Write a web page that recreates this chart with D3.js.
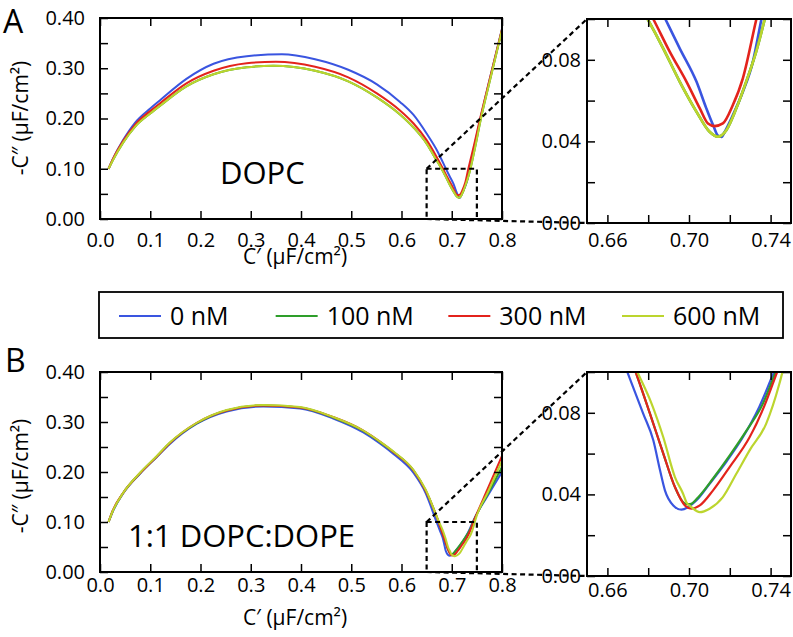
<!DOCTYPE html>
<html><head><meta charset="utf-8">
<script src="https://cdn.jsdelivr.net/npm/d3@7"></script>
<style>
body{margin:0;background:#fff}
svg text{font-family:'Open Sans',sans-serif;fill:#000}
</style>
</head><body>
<svg id="chart" width="793" height="637"></svg>
<script>
// ---------- data ----------
const seriesLabels = ["0 nM", "100 nM", "300 nM", "600 nM"];
const seriesColors = ["#3a55e0", "#2e9e2a", "#e3231c", "#bcd52e"];

const mainXTicks = [0, 0.1, 0.2, 0.3, 0.4, 0.5, 0.6, 0.7, 0.8];
const mainYTicks = [0, 0.1, 0.2, 0.3, 0.4];
const mainYMinor = [0, 0.05, 0.1, 0.15, 0.2, 0.25, 0.3, 0.35, 0.4];
const insetXTicks = [0.66, 0.70, 0.74];
const insetXMinor = [0.66, 0.68, 0.70, 0.72, 0.74];
const insetYTicks = [0, 0.04, 0.08];
const insetYMinor = [0, 0.02, 0.04, 0.06, 0.08, 0.10];

// Panel A: DOPC  [C', -C'']
const dopc0 = [[0.017,0.100],[0.025,0.118],[0.046,0.157],[0.07,0.192],[0.10,0.220],[0.119,0.236],[0.172,0.279],[0.226,0.309],[0.292,0.324],[0.362,0.328],[0.428,0.318],[0.494,0.297],[0.551,0.268],[0.597,0.233],[0.624,0.207],[0.65,0.170],[0.672,0.134],[0.6887,0.0994],[0.6955,0.0855],[0.7037,0.0692],[0.7085,0.0562],[0.7118,0.048],[0.7142,0.0428],[0.7160,0.0422],[0.7175,0.0447],[0.7215,0.0529],[0.7264,0.0643],[0.7313,0.079],[0.7354,0.0994],[0.745,0.145],[0.756,0.195],[0.776,0.280],[0.800,0.378]];
const dopc100 = [[0.017,0.100],[0.025,0.116],[0.046,0.152],[0.07,0.184],[0.10,0.210],[0.119,0.225],[0.172,0.264],[0.226,0.288],[0.292,0.302],[0.345,0.305],[0.428,0.295],[0.494,0.274],[0.551,0.242],[0.597,0.208],[0.624,0.182],[0.65,0.150],[0.666,0.123],[0.68,0.0994],[0.6874,0.0855],[0.6955,0.0692],[0.7037,0.0545],[0.7101,0.0447],[0.7142,0.0423],[0.7183,0.0455],[0.7232,0.0562],[0.728,0.0692],[0.7329,0.0839],[0.737,0.0994],[0.747,0.145],[0.757,0.195],[0.777,0.280],[0.800,0.376]];
const dopc300 = [[0.017,0.100],[0.025,0.118],[0.046,0.155],[0.07,0.188],[0.10,0.215],[0.119,0.230],[0.172,0.270],[0.226,0.295],[0.292,0.310],[0.350,0.313],[0.428,0.303],[0.494,0.282],[0.551,0.250],[0.597,0.216],[0.624,0.190],[0.65,0.157],[0.668,0.127],[0.6828,0.0994],[0.6906,0.0839],[0.6988,0.0692],[0.7053,0.0562],[0.7093,0.0488],[0.7126,0.0475],[0.7166,0.0488],[0.7215,0.0578],[0.7264,0.0709],[0.7329,0.0994],[0.745,0.150],[0.756,0.198],[0.776,0.280],[0.800,0.378]];
const dopc600 = [[0.017,0.100],[0.025,0.116],[0.046,0.152],[0.07,0.184],[0.10,0.210],[0.119,0.225],[0.172,0.264],[0.226,0.288],[0.292,0.302],[0.345,0.305],[0.428,0.295],[0.494,0.274],[0.551,0.242],[0.597,0.208],[0.624,0.182],[0.65,0.150],[0.666,0.123],[0.68,0.0994],[0.6874,0.0855],[0.6955,0.0692],[0.7037,0.0545],[0.7101,0.0447],[0.7142,0.0423],[0.7183,0.0455],[0.7232,0.0562],[0.728,0.0692],[0.7329,0.0839],[0.737,0.0994],[0.747,0.145],[0.757,0.195],[0.777,0.280],[0.800,0.376]];

// Panel B: 1:1 DOPC:DOPE
const mix0 = [[0.017,0.100],[0.025,0.120],[0.046,0.157],[0.08,0.197],[0.113,0.230],[0.139,0.256],[0.192,0.296],[0.252,0.321],[0.325,0.331],[0.398,0.327],[0.464,0.307],[0.524,0.279],[0.557,0.257],[0.584,0.236],[0.624,0.198],[0.648,0.158],[0.6695,0.1007],[0.6776,0.0795],[0.6825,0.0665],[0.6858,0.0518],[0.6882,0.042],[0.6923,0.0346],[0.6963,0.0325],[0.6996,0.0338],[0.7037,0.0371],[0.7101,0.0452],[0.7183,0.0560],[0.7264,0.0680],[0.7345,0.0830],[0.742,0.1007],[0.770,0.150],[0.800,0.200]];
const mix100 = [[0.017,0.100],[0.025,0.121],[0.046,0.158],[0.08,0.198],[0.113,0.231],[0.139,0.258],[0.192,0.297],[0.252,0.323],[0.325,0.333],[0.398,0.329],[0.464,0.309],[0.524,0.282],[0.557,0.260],[0.584,0.240],[0.624,0.203],[0.648,0.163],[0.6736,0.1007],[0.6809,0.0795],[0.6874,0.060],[0.6931,0.0436],[0.698,0.0355],[0.7004,0.0352],[0.7053,0.0395],[0.7118,0.0478],[0.7199,0.0590],[0.7280,0.0710],[0.7360,0.0840],[0.7428,0.1007],[0.771,0.155],[0.800,0.210]];
const mix300 = [[0.017,0.100],[0.025,0.122],[0.046,0.158],[0.08,0.198],[0.113,0.231],[0.139,0.258],[0.192,0.298],[0.252,0.323],[0.325,0.333],[0.398,0.329],[0.464,0.310],[0.524,0.283],[0.557,0.261],[0.584,0.240],[0.624,0.203],[0.648,0.163],[0.6736,0.1007],[0.6809,0.0795],[0.6874,0.060],[0.6931,0.0436],[0.698,0.0346],[0.7012,0.033],[0.7053,0.0346],[0.7118,0.042],[0.7199,0.0534],[0.7297,0.0680],[0.7370,0.0835],[0.7435,0.1007],[0.771,0.165],[0.800,0.232]];
const mix600 = [[0.017,0.100],[0.025,0.121],[0.046,0.158],[0.08,0.199],[0.113,0.232],[0.139,0.259],[0.192,0.298],[0.252,0.324],[0.325,0.334],[0.398,0.330],[0.464,0.310],[0.524,0.283],[0.557,0.261],[0.584,0.241],[0.624,0.204],[0.648,0.165],[0.6744,0.1007],[0.6817,0.0844],[0.6874,0.068],[0.6931,0.0485],[0.6971,0.0403],[0.6987,0.0362],[0.7012,0.0338],[0.7053,0.0313],[0.7101,0.033],[0.7166,0.0387],[0.7232,0.0501],[0.7297,0.0616],[0.7378,0.0746],[0.7443,0.0942],[0.746,0.1007],[0.772,0.160],[0.800,0.222]];

const panelLetters = ["A", "B"];
const panelNames = ["DOPC", "1:1 DOPC:DOPE"];
const panelSeries = [[dopc0, dopc100, dopc300, dopc600], [mix0, mix100, mix300, mix600]];

// ---------- layout ----------
const svg = d3.select("#chart");
const layouts = [
  {main:{l:100,r:502,t:18,b:219}, inset:{l:587,r:791,t:19,b:223}, xPad:14, ixPad:10, letter:[3,33], name:[220,184], ylab:[28,118], xlab:[295,264]},
  {main:{l:100,r:502,t:372,b:572}, inset:{l:587,r:791,t:372,b:576}, xPad:6, ixPad:7, letter:[5,372], name:[128,547], ylab:[28,476], xlab:[295,625]}
];

function frame(g, box) {
  g.append("rect").attr("x", box.l).attr("y", box.t)
    .attr("width", box.r - box.l).attr("height", box.b - box.t)
    .attr("fill", "none").attr("stroke", "#000").attr("stroke-width", 2);
}
function styleAxis(sel) {
  sel.select(".domain").remove();
  sel.selectAll(".tick line").attr("stroke", "#000").attr("stroke-width", 1.5);
  sel.selectAll("text").attr("font-family", "'Open Sans',sans-serif").attr("font-size", 20).attr("fill", "#000");
}
const line = (xs, ys) => d3.line().curve(d3.curveMonotoneX).x(d => xs(d[0])).y(d => ys(d[1]));

layouts.forEach((L, pi) => {
  const g = svg.append("g");
  const m = L.main, ins = L.inset;
  const x = d3.scaleLinear().domain([0, 0.8]).range([m.l, m.r]);
  const y = d3.scaleLinear().domain([0, 0.4]).range([m.b, m.t]);
  const xi = d3.scaleLinear().domain([0.65, 0.75]).range([ins.l, ins.r]);
  const yi = d3.scaleLinear().domain([0, 0.1]).range([ins.b, ins.t]);

  // clip paths
  const cm = "clipm" + pi, ci = "clipi" + pi;
  const defs = svg.append("defs");
  defs.append("clipPath").attr("id", cm).append("rect").attr("x", m.l).attr("y", m.t).attr("width", m.r - m.l).attr("height", m.b - m.t);
  defs.append("clipPath").attr("id", ci).append("rect").attr("x", ins.l).attr("y", ins.t).attr("width", ins.r - ins.l).attr("height", ins.b - ins.t);

  // curves
  const series = panelSeries[pi];
  const gm = g.append("g").attr("clip-path", `url(#${cm})`);
  const gi = g.append("g").attr("clip-path", `url(#${ci})`);
  series.forEach((s, k) => {
    gm.append("path").datum(s).attr("d", line(x, y)).attr("fill", "none")
      .attr("stroke", seriesColors[k]).attr("stroke-width", 2).attr("stroke-linejoin", "round");
    gi.append("path").datum(s).attr("d", line(xi, yi)).attr("fill", "none")
      .attr("stroke", seriesColors[k]).attr("stroke-width", pi === 0 ? 2.6 : 2.2).attr("stroke-linejoin", "round");
  });

  // main axes
  const fmt2 = d => mainYTicks.some(t => Math.abs(t - d) < 1e-6) ? d.toFixed(2) : "";
  g.append("g").attr("transform", `translate(${m.l},0)`)
    .call(d3.axisLeft(y).tickValues(mainYMinor).tickSize(-8).tickPadding(15).tickFormat(fmt2)).call(styleAxis);
  g.append("g").attr("transform", `translate(${m.r},0)`)
    .call(d3.axisRight(y).tickValues(mainYMinor).tickSize(-8).tickFormat("")).call(styleAxis);
  g.append("g").attr("transform", `translate(0,${m.t})`)
    .call(d3.axisTop(x).tickValues(mainXTicks).tickSize(-8).tickFormat("")).call(styleAxis);
  g.append("g").attr("transform", `translate(0,${m.b})`)
    .call(d3.axisBottom(x).tickValues(mainXTicks).tickSize(-8).tickPadding(L.xPad).tickFormat(d3.format(".1f"))).call(styleAxis);
  frame(g, m);

  // inset axes
  const fmtI = d => insetYTicks.some(t => Math.abs(t - d) < 1e-6) ? d.toFixed(2) : "";
  g.append("g").attr("transform", `translate(${ins.l},0)`)
    .call(d3.axisLeft(yi).tickValues(insetYMinor).tickSize(-8).tickPadding(6).tickFormat(fmtI)).call(styleAxis);
  g.append("g").attr("transform", `translate(${ins.r},0)`)
    .call(d3.axisRight(yi).tickValues(insetYMinor).tickSize(-8).tickFormat("")).call(styleAxis);
  g.append("g").attr("transform", `translate(0,${ins.t})`)
    .call(d3.axisTop(xi).tickValues(insetXMinor).tickSize(-8).tickFormat("")).call(styleAxis);
  const fmtX = d => insetXTicks.some(t => Math.abs(t - d) < 1e-6) ? d.toFixed(2) : "";
  g.append("g").attr("transform", `translate(0,${ins.b})`)
    .call(d3.axisBottom(xi).tickValues(insetXMinor).tickSize(-8).tickPadding(L.ixPad).tickFormat(fmtX)).call(styleAxis);
  frame(g, ins);

  // zoom rectangle and connectors
  const dash = {stroke: "#000", "stroke-width": 2.2, "stroke-dasharray": "5,3.5", fill: "none"};
  const zr = g.append("rect").attr("x", x(0.65)).attr("y", y(0.1))
    .attr("width", x(0.75) - x(0.65)).attr("height", y(0) - y(0.1));
  Object.entries(dash).forEach(([k, v]) => zr.attr(k, v));
  [[[0.65, 0.1], [0.65, 0.1]], [[0.65, 0], [0.65, 0]]].forEach(([a, b]) => {
    const ln = g.append("line").attr("x1", x(a[0])).attr("y1", y(a[1])).attr("x2", xi(b[0])).attr("y2", yi(b[1]));
    Object.entries(dash).forEach(([k, v]) => ln.attr(k, v));
  });

  // texts
  g.append("text").attr("x", L.letter[0]).attr("y", L.letter[1]).attr("font-size", 32).text(panelLetters[pi]);
  g.append("text").attr("x", L.name[0]).attr("y", L.name[1]).attr("font-size", 31).text(panelNames[pi]);
  g.append("text").attr("transform", `translate(${L.ylab[0]},${L.ylab[1]}) rotate(-90)`)
    .attr("text-anchor", "middle").attr("font-size", 21).text("-C\u2033 (\u03bcF/cm\u00b2)");
  g.append("text").attr("x", L.xlab[0]).attr("y", L.xlab[1])
    .attr("text-anchor", "middle").attr("font-size", 21).text("C\u2032 (\u03bcF/cm\u00b2)");
});

// ---------- legend ----------
const lg = svg.append("g");
lg.append("rect").attr("x", 99).attr("y", 292).attr("width", 684).attr("height", 46)
  .attr("fill", "#fff").attr("stroke", "#000").attr("stroke-width", 1.8);
const legendX = d3.scalePoint().domain(seriesLabels).range([119, 622]);
seriesLabels.forEach((lab, k) => {
  const x0 = legendX(lab) + (k === 1 ? -11 : k === 2 ? -6 : 0);
  lg.append("line").attr("x1", x0).attr("x2", x0 + 42).attr("y1", 316).attr("y2", 316)
    .attr("stroke", seriesColors[k]).attr("stroke-width", 2);
  lg.append("text").attr("x", x0 + 51).attr("y", 325).attr("font-size", 25).text(lab);
});
</script>
</body></html>
